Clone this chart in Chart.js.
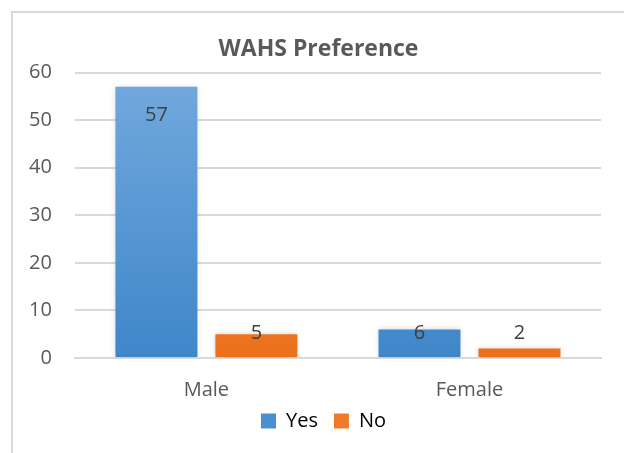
<!DOCTYPE html>
<html><head><meta charset="utf-8">
<script src="https://cdn.jsdelivr.net/npm/chart.js@4.4.0/dist/chart.umd.min.js"></script>
<style>
html,body{margin:0;padding:0;background:#fff;}
#wrap{position:absolute;left:11px;top:11px;width:613px;height:442px;border-top:2px solid #d9d9d9;border-left:2px solid #d9d9d9;box-sizing:border-box;}
#c{position:absolute;left:0;top:0;}
</style></head>
<body>
<div id="wrap"></div>
<canvas id="c" width="624" height="453"></canvas>
<script>
const categories = ["Male", "Female"];
const yesValues = [57, 6];
const noValues = [5, 2];
const yTicks = [0, 10, 20, 30, 40, 50, 60];

const FONT = '"Open Sans", "Liberation Sans", sans-serif';

function grad(ctx, chartArea, top, bottom) {
  const g = ctx.createLinearGradient(0, chartArea.top, 0, chartArea.bottom);
  g.addColorStop(0, top);
  g.addColorStop(1, bottom);
  return g;
}

const labelPlugin = {
  id: 'labels',
  afterDatasetsDraw(chart) {
    const ctx = chart.ctx;
    const base = chart.scales.y.getPixelForValue(0);
    ctx.save();
    ctx.font = '20px ' + FONT;
    ctx.fillStyle = '#404040';
    ctx.textAlign = 'center';
    ctx.textBaseline = 'middle';
    chart.data.datasets.forEach((ds, di) => {
      chart.getDatasetMeta(di).data.forEach((bar, i) => {
        const y = Math.min(bar.y + 28, base - 25);
        ctx.fillText(String(ds.data[i]), bar.x, y);
      });
    });
    ctx.restore();
  }
};

const shadowPlugin = {
  id: 'shadow',
  afterLayout(chart) {
    if (chart.legend) {
      chart.legend.left += 20; chart.legend.right += 20;
      chart.legend.top -= 9; chart.legend.bottom -= 9;
    }
    if (chart.titleBlock) { chart.titleBlock.left += 15; chart.titleBlock.right += 15; }
  },
  beforeDatasetsDraw(chart) {
    chart.ctx.save();
    chart.ctx.shadowColor = 'rgba(0,0,0,0.18)';
    chart.ctx.shadowBlur = 5;
  },
  afterDatasetsDraw(chart) {
    chart.ctx.restore();
  }
};

new Chart(document.getElementById('c'), {
  type: 'bar',
  data: {
    labels: categories,
    datasets: [
      {
        label: 'Yes', data: yesValues,
        backgroundColor: (c) => c.chart.chartArea ? grad(c.chart.ctx, c.chart.chartArea, '#73a9de', '#3f86c9') : '#5b9bd5',
        borderWidth: 0,
        categoryPercentage: 0.76, barPercentage: 0.82
      },
      {
        label: 'No', data: noValues,
        backgroundColor: (c) => c.chart.chartArea ? grad(c.chart.ctx, c.chart.chartArea, '#f8a56a', '#ec6f1a') : '#ed7d31',
        borderWidth: 0,
        categoryPercentage: 0.76, barPercentage: 0.82
      }
    ]
  },
  options: {
    responsive: false,
    animation: false,
    devicePixelRatio: 1,
    layout: { padding: { left: 6, right: 23, top: 36, bottom: 3 } },
    plugins: {
      title: {
        display: true, text: 'WAHS Preference',
        color: '#595959',
        font: { family: FONT, size: 23, weight: 'bold' },
        padding: { top: 0, bottom: 9 }
      },
      legend: {
        position: 'bottom',
        labels: {
          color: '#595959',
          font: { family: FONT, size: 20 },
          boxWidth: 15, boxHeight: 15, padding: 16,
          generateLabels(chart) {
            return [
              { text: 'Yes', fillStyle: '#4a8fd0', strokeStyle: '#4a8fd0', lineWidth: 0, datasetIndex: 0 },
              { text: 'No', fillStyle: '#ef7a2b', strokeStyle: '#ef7a2b', lineWidth: 0, datasetIndex: 1 }
            ];
          }
        }
      },
      tooltip: { enabled: false }
    },
    scales: {
      x: {
        afterFit(axis) { axis.height = 46; },
        grid: { display: false, drawTicks: false },
        border: { display: true, color: '#d9d9d9', width: 2 },
        ticks: { color: '#595959', padding: 20, font: { family: FONT, size: 20 } }
      },
      y: {
        min: 0, max: 60,
        afterBuildTicks(axis) { axis.ticks = yTicks.map(v => ({ value: v })); },
        grid: { color: '#d9d9d9', lineWidth: 2, drawTicks: false },
        border: { display: false },
        ticks: { color: '#595959', padding: 23, font: { family: FONT, size: 20 } }
      }
    }
  },
  plugins: [shadowPlugin, labelPlugin]
});
</script>
</body></html>
